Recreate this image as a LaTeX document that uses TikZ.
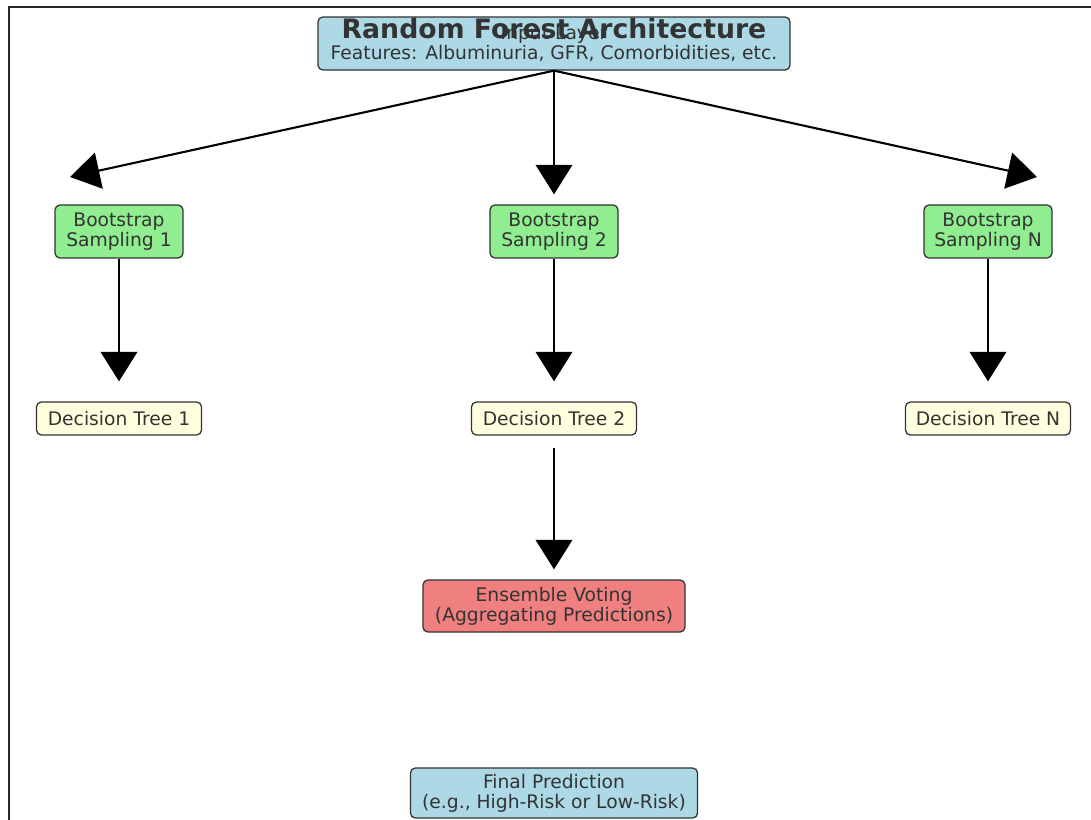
\documentclass[tikz,border=0pt]{standalone}
\usepackage{fontspec}
\setmainfont{DejaVu Sans}
\usepackage{tikz}
\usetikzlibrary{positioning, arrows.meta, shapes.geometric}

\definecolor{lblue}{RGB}{173,216,230}
\definecolor{lgreen}{RGB}{144,238,144}
\definecolor{lyellow}{RGB}{255,255,224}
\definecolor{lcoral}{RGB}{240,128,128}
\definecolor{txt}{RGB}{51,51,51}

\begin{document}
\begin{tikzpicture}[
                x=0.025cm, y=-0.025cm,
                >={Triangle[length=21pt, width=26pt]},
                box/.style={draw=black!80, line width=0.9pt, rectangle, rounded corners=3.5pt, align=center, text=txt, inner sep=2pt, font=\fontsize{13.3}{14.2}\selectfont},
                inbox/.style={box, fill=lblue, minimum width=11.8cm, minimum height=1.325cm},
                bootbox/.style={box, fill=lgreen, minimum width=3.2cm, minimum height=1.325cm},
                treebox/.style={box, fill=lyellow, minimum width=4.125cm, minimum height=0.825cm},
                votebox/.style={box, fill=lcoral, minimum width=6.55cm, minimum height=1.3cm},
                outbox/.style={box, fill=lblue, minimum width=7.175cm, minimum height=1.25cm},
                flow/.style={->, line width=1.5pt, black}
            ]
            \useasboundingbox (0,0) rectangle (1091,820);
            % frame
            \draw[line width=1.2pt, black!85] (9,820) -- (9,7) -- (1091,7);

            % Nodes
            \node[inbox] (input) at (554,43.5) {Input Layer\\Features: Albuminuria, GFR, Comorbidities, etc.};
            \node[font=\bfseries\fontsize{19}{22}\selectfont, text=txt, inner sep=0pt] (title) at (554,29) {Random Forest Architecture};

            \node[bootbox] (boot1) at (119,231.5) {Bootstrap\\Sampling 1};
            \node[bootbox] (boot2) at (554,231.5) {Bootstrap\\Sampling 2};
            \node[bootbox] (bootn) at (988,231.5) {Bootstrap\\Sampling N};

            \node[treebox] (tree1) at (119,418.5) {Decision Tree 1};
            \node[treebox] (tree2) at (554,418.5) {Decision Tree 2};
            \node[treebox] (treen) at (988,418.5) {Decision Tree N};

            \node[votebox] (vote) at (554,606) {Ensemble Voting\\(Aggregating Predictions)};
            \node[outbox] (final) at (554,793) {Final Prediction\\(e.g., High-Risk or Low-Risk)};

            \coordinate (tipl) at (70,177);
            \coordinate (tipr) at (1037,177);

            % Edges
            \draw[flow] (input.south) -- (tipl);
            \draw[flow] (input.south) -- (tipr);
            \draw[flow, shorten >=0.25cm] (input.south) -- (boot2.north);
            \draw[flow, shorten >=0.5cm] (boot1) -- (tree1);
            \draw[flow, shorten >=0.5cm] (boot2) -- (tree2);
            \draw[flow, shorten >=0.5cm] (bootn) -- (treen);
            \draw[flow, shorten <=0.3cm, shorten >=0.25cm] (tree2) -- (vote);
\end{tikzpicture}
\end{document}
